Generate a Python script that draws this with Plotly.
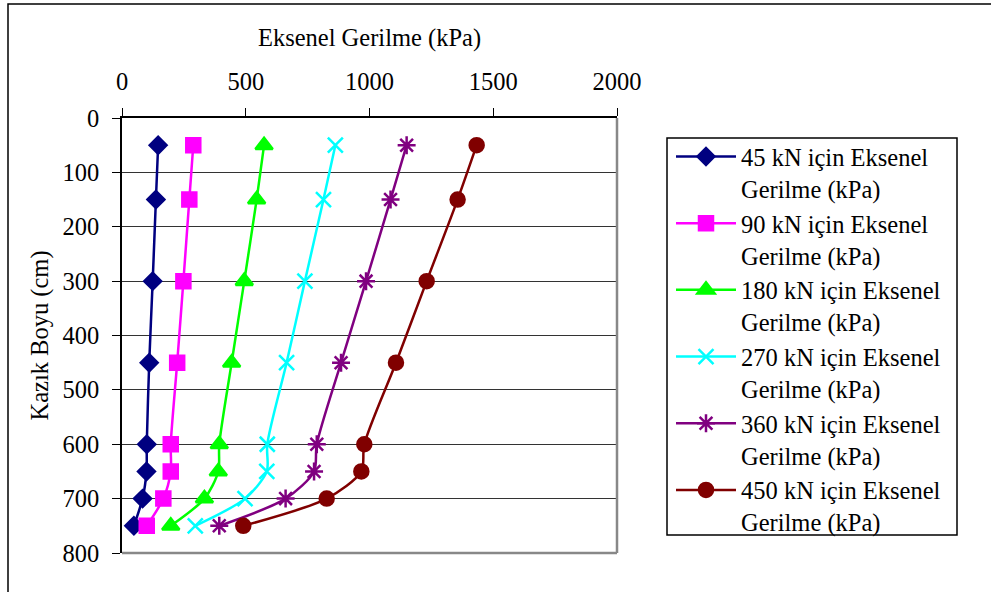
import plotly.graph_objects as go

# Depth along the pile (cm)
depth = [50, 150, 300, 450, 600, 650, 700, 750]

# Axial stress (kPa) for each applied load
stress_45 = [146, 137, 124, 110, 100, 99, 83, 48]
stress_90 = [288, 272, 248, 223, 197, 197, 167, 100]
stress_180 = [574, 544, 494, 443, 393, 389, 333, 197]
stress_270 = [862, 814, 739, 665, 587, 585, 497, 296]
stress_360 = [1150, 1085, 986, 885, 787, 776, 661, 393]
stress_450 = [1433, 1356, 1231, 1107, 979, 967, 827, 490]

series_names = [
    "45 kN için Eksenel<br>Gerilme (kPa)",
    "90 kN için Eksenel<br>Gerilme (kPa)",
    "180 kN için Eksenel<br>Gerilme (kPa)",
    "270 kN için Eksenel<br>Gerilme (kPa)",
    "360 kN için Eksenel<br>Gerilme (kPa)",
    "450 kN için Eksenel<br>Gerilme (kPa)",
]
series_values = [stress_45, stress_90, stress_180, stress_270, stress_360, stress_450]
colors = ["#000080", "#FF00FF", "#00FF00", "#00FFFF", "#800080", "#800000"]
symbols = ["diamond", "square", "triangle-up", "x-thin-open", "asterisk-open", "circle"]
sizes = [13, 14, 15, 15, 15, 14]

FONT = "Liberation Serif"
FS = 24.5

# plot area in pixels (used to place the legend frame in paper units)
PL, PR, PT, PB = 122, 617, 118, 553
def px_x(x):
    return (x - PL) / (PR - PL)
def px_y(y):
    return (PB - y) / (PB - PT)

fig = go.Figure()
for name, vals, col, sym, sz in zip(series_names, series_values, colors, symbols, sizes):
    fig.add_trace(go.Scatter(
        x=vals, y=depth, name=name, mode="lines+markers",
        line=dict(color=col, width=2.5, shape="spline", smoothing=0.8),
        marker=dict(symbol=sym, size=sz, color=col, line=dict(color=col, width=2.5)),
    ))

fig.update_layout(
    width=991, height=592,
    margin=dict(l=PL, r=991 - PR, t=PT, b=592 - PB),
    paper_bgcolor="white", plot_bgcolor="white",
    font=dict(family=FONT, size=FS, color="black"),
    showlegend=True,
    legend=dict(
        x=px_x(671), y=px_y(134), xanchor="left", yanchor="top",
        borderwidth=0, bgcolor="rgba(0,0,0,0)",
        font=dict(family=FONT, size=FS, color="black"),
        valign="top", itemwidth=60, tracegroupgap=0,
    ),
    xaxis=dict(
        side="top", range=[0, 2000], dtick=500, tick0=0,
        showgrid=False, zeroline=False,
        ticks="outside", ticklen=8, tickcolor="black", ticklabelstandoff=8,
        tickfont=dict(family=FONT, size=FS, color="black"),
        showline=True, linecolor="black", linewidth=1.5,
        title=dict(text="Eksenel Gerilme (kPa)", standoff=15,
                   font=dict(family=FONT, size=FS, color="black")),
    ),
    yaxis=dict(
        range=[800, 0], dtick=100, tick0=0,
        showgrid=True, gridcolor="#333333", gridwidth=1, zeroline=False,
        ticks="outside", ticklen=8, tickcolor="black", ticklabelstandoff=8,
        tickfont=dict(family=FONT, size=FS, color="black"),
        showline=True, linecolor="black", linewidth=1.5,
        title=dict(text="Kazık Boyu (cm)", standoff=7,
                   font=dict(family=FONT, size=FS, color="black")),
    ),
    shapes=[
        # right and bottom edges of the plotting area
        dict(type="line", xref="paper", yref="paper", x0=1, x1=1, y0=0, y1=1,
             line=dict(color="#888888", width=2.5)),
        dict(type="line", xref="paper", yref="paper", x0=0, x1=1, y0=0, y1=0,
             line=dict(color="#888888", width=2.5)),
        # legend frame
        dict(type="rect", xref="paper", yref="paper",
             x0=px_x(667), x1=px_x(957), y0=px_y(535), y1=px_y(138),
             line=dict(color="black", width=1.5)),
        # outer chart frame
        dict(type="rect", xref="paper", yref="paper",
             x0=px_x(8), x1=px_x(995), y0=px_y(600), y1=px_y(4),
             line=dict(color="black", width=1.5), layer="below"),
    ],
)

fig.write_html("out.html")
